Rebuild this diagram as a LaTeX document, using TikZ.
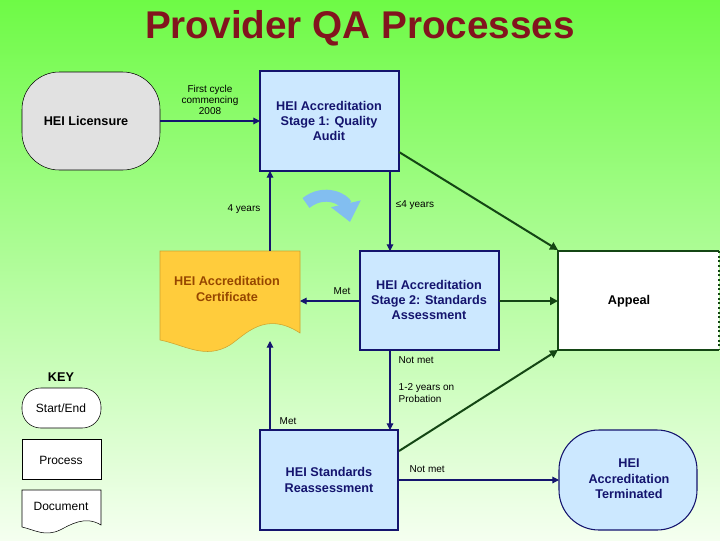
\documentclass[tikz,border=0pt]{standalone}
\usepackage{fontspec}
\setmainfont{Liberation Sans}
\usetikzlibrary{arrows.meta}
\definecolor{navy}{RGB}{20,20,110}
\definecolor{dgreen}{RGB}{20,70,20}
\definecolor{lblue}{RGB}{204,232,255}
\definecolor{orng}{RGB}{255,204,60}
\definecolor{brn}{RGB}{150,70,0}
\definecolor{ttl}{RGB}{130,20,30}
\definecolor{cblue}{RGB}{130,190,240}
\definecolor{gtop}{RGB}{110,250,70}
\definecolor{gbot}{RGB}{245,255,240}
\definecolor{lgray}{RGB}{225,225,225}
\tikzset{
 proc/.style={draw=navy,fill=lblue,thick},
 btxt/.style={font=\fontsize{9.5}{11.5}\selectfont\bfseries,text=navy,align=center},
 lab/.style={font=\fontsize{7.5}{8.5}\selectfont,text=black,align=center},
 arr/.style={draw=navy,thick,-{Triangle[width=5pt,length=5pt]}},
 garr/.style={draw=dgreen,line width=1.5pt,-{Triangle[width=6pt,length=6pt]}},
 keyt/.style={font=\fontsize{9}{10}\selectfont,align=center},
}
\begin{document}
\begin{tikzpicture}[x=0.75pt,y=-0.75pt]
\shade[top color=gtop,bottom color=gbot] (0,0) rectangle (720,540);
\useasboundingbox (0,0) rectangle (720,540);
\node[font=\fontsize{29}{32}\selectfont\bfseries,text=ttl] (title) at (360,28) {Provider QA Processes};
% Licensure
\draw[fill=lgray,draw=black,rounded corners=28] (22,72) rectangle (160,170);
\node[btxt,text=black] (lic) at (86,121) {HEI Licensure};
\coordinate (licr) at (160,121);
% Stage 1
\draw[proc] (260,71) rectangle (399,171);
\node[btxt] (s1) at (329,121) {HEI Accreditation\\ Stage 1: Quality\\ Audit};
% Stage 2
\draw[proc] (360,251) rectangle (499,350);
\node[btxt] (s2) at (429,300) {HEI Accreditation\\ Stage 2: Standards\\ Assessment};
% Certificate
\draw[fill=orng,draw=orng!80!black] (160,251) -- (300,251) -- (300,333) .. controls (265,310) and (245,335) .. (230,345) .. controls (205,360) and (185,345) .. (160,340) -- cycle;
\node[btxt,text=brn] (cert) at (227,289) {HEI Accreditation\\ Certificate};
% Appeal
\draw[fill=white,draw=dgreen,line width=1.5pt] (719,251) -- (558,251) -- (558,350) -- (719,350);
\draw[dgreen,line width=1.5pt,dotted] (719,251) -- (719,350);
\node[btxt,text=black] (app) at (629,301) {Appeal};
% Reassessment
\draw[proc] (260,430) rectangle (398,530);
\node[btxt] (re) at (329,480) {HEI Standards\\ Reassessment};
% Terminated
\draw[fill=lblue,draw=navy,thick,rounded corners=30] (559,430) rectangle (697,530);
\node[btxt] (term) at (629,479) {HEI\\ Accreditation\\ Terminated};
% connectors
\draw[arr] (licr) -- (260,121);
\node[lab] at (210,100) {First cycle\\ commencing\\ 2008};
\draw[arr] (270,251) -- (270,171);
\node[lab] at (244,209) {4 years};
\draw[arr] (390,171) -- (390,251);
\node[lab] at (415,205) {≤4 years};
\draw[garr] (399,152) -- (558,250);
\draw[arr] (360,301) -- (300,301);
\node[lab] at (342,291) {Met};
\draw[garr] (499,301) -- (558,301);
\draw[arr] (390,350) -- (390,430);
\node[lab,anchor=west] at (394,360) {Not met};
\node[lab,anchor=west,align=left] at (394,393) {1-2 years on\\ Probation};
\draw[arr] (270,430) -- (270,341);
\node[lab,anchor=west] at (275,421) {Met};
\draw[arr] (398,480) -- (559,480);
\node[lab,anchor=west] at (405,469) {Not met};
\draw[garr] (399,451) -- (558,350);
% curved arrow
\draw[cblue,line width=9pt,-{Triangle[width=22pt,length=14pt]}] (306,203) .. controls (325,188) and (345,200) .. (350,222);
% key
\node[font=\fontsize{9.5}{11}\selectfont\bfseries] (key) at (61,377) {KEY};
\draw[fill=white,rounded corners=14] (22,388) rectangle (101,428);
\node[keyt] (k1) at (61,408) {Start/End};
\draw[fill=white] (22,439) rectangle (101,479);
\node[keyt] (k2) at (61,460) {Process};
\draw[fill=white] (22,490) -- (101,490) -- (101,525) .. controls (85,515) and (70,525) .. (60,530) .. controls (45,537) and (35,530) .. (22,527) -- cycle;
\node[keyt] (k3) at (61,506) {Document};
\end{tikzpicture}
\end{document}
